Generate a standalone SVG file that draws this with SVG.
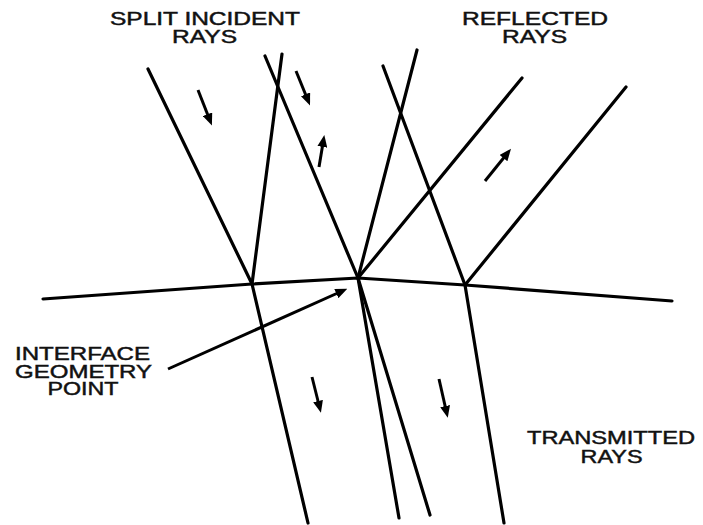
<svg xmlns="http://www.w3.org/2000/svg" width="703" height="525" viewBox="0 0 703 525">
<style>
.ray{stroke:#000;stroke-width:3.2;fill:none;stroke-linecap:round;stroke-linejoin:round}
.arr{stroke:#000;stroke-width:3;fill:none;marker-end:url(#ah)}
.lbl{font-family:"Liberation Sans",Arial,sans-serif;font-size:18px;fill:#111;stroke:#111;stroke-width:0.45;text-anchor:middle}
</style>
<defs>
<marker id="ah" viewBox="0 0 12 10" refX="4" refY="5" markerWidth="12" markerHeight="10" markerUnits="userSpaceOnUse" orient="auto">
<path d="M0,0 L12,5 L0,10 z" fill="#000"/>
</marker>
</defs>
<rect width="703" height="525" fill="#fff"/>
<g id="interface">
<polyline class="ray" points="43,299 252,284 358,278 465,285 672,301"/>
</g>
<g id="connectors">
<line class="ray" x1="148" y1="69" x2="252" y2="284"/>
<line class="ray" x1="282" y1="54" x2="252" y2="284"/>
<line class="ray" x1="265" y1="56" x2="358" y2="278"/>
<line class="ray" x1="417" y1="50" x2="358" y2="278"/>
<line class="ray" x1="522" y1="78" x2="358" y2="278"/>
<line class="ray" x1="383" y1="66" x2="465" y2="285"/>
<line class="ray" x1="626" y1="87" x2="465" y2="285"/>
<line class="ray" x1="252" y1="284" x2="308" y2="523"/>
<line class="ray" x1="358" y1="278" x2="399" y2="518"/>
<line class="ray" x1="358" y1="278" x2="430" y2="515"/>
<line class="ray" x1="465" y1="285" x2="504" y2="523"/>
<line class="arr" x1="198" y1="90" x2="209" y2="118"/>
<line class="arr" x1="296" y1="71" x2="307" y2="98"/>
<line class="arr" x1="319" y1="167" x2="323" y2="143"/>
<line class="arr" x1="485" y1="181" x2="506" y2="155"/>
<line class="arr" x1="312" y1="377" x2="319" y2="405"/>
<line class="arr" x1="439" y1="379" x2="446" y2="410"/>
<line class="arr" x1="168" y1="369" x2="340" y2="292"/>
</g>
<g id="label-incident">
<text class="lbl" x="205" y="25" textLength="190" lengthAdjust="spacingAndGlyphs">SPLIT INCIDENT</text>
<text class="lbl" x="204.5" y="43" textLength="65" lengthAdjust="spacingAndGlyphs">RAYS</text>
</g>
<g id="label-reflected">
<text class="lbl" x="535" y="25" textLength="146" lengthAdjust="spacingAndGlyphs">REFLECTED</text>
<text class="lbl" x="534.5" y="43" textLength="65" lengthAdjust="spacingAndGlyphs">RAYS</text>
</g>
<g id="label-interface">
<text class="lbl" x="82.5" y="360" textLength="135" lengthAdjust="spacingAndGlyphs">INTERFACE</text>
<text class="lbl" x="83.5" y="377.5" textLength="137" lengthAdjust="spacingAndGlyphs">GEOMETRY</text>
<text class="lbl" x="83" y="395" textLength="71" lengthAdjust="spacingAndGlyphs">POINT</text>
</g>
<g id="label-transmitted">
<text class="lbl" x="611" y="444" textLength="168" lengthAdjust="spacingAndGlyphs">TRANSMITTED</text>
<text class="lbl" x="611.5" y="463" textLength="62" lengthAdjust="spacingAndGlyphs">RAYS</text>
</g>
</svg>
